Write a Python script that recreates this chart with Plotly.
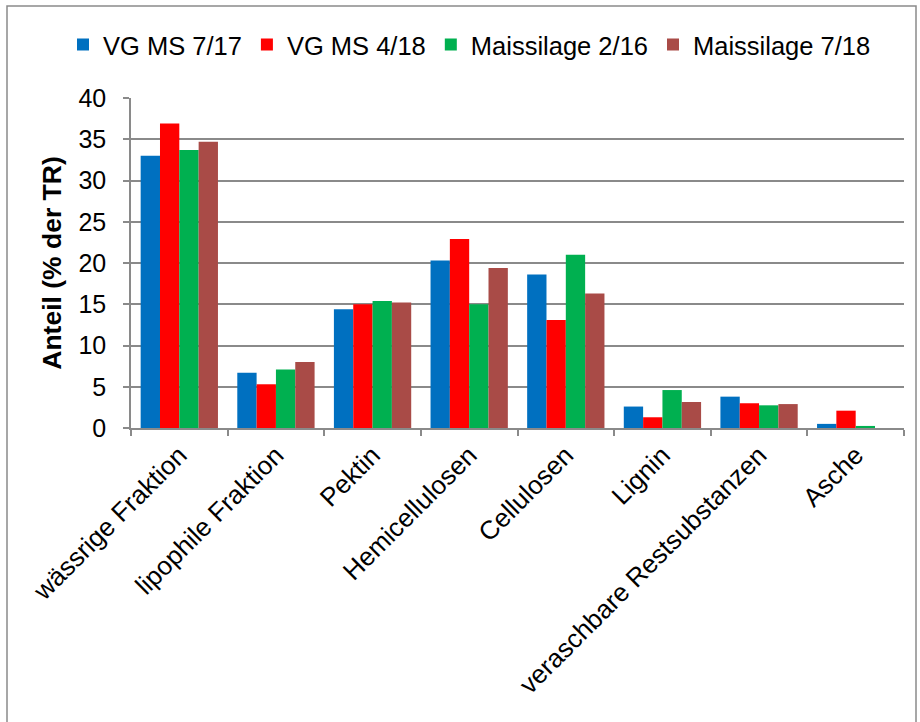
import plotly.graph_objects as go

categories = ["wässrige Fraktion", "lipophile Fraktion", "Pektin", "Hemicellulosen",
              "Cellulosen", "Lignin", "veraschbare Restsubstanzen", "Asche"]
series_names = ["VG MS 7/17", "VG MS 4/18", "Maissilage 2/16", "Maissilage 7/18"]
vg_ms_7_17 = [33.0, 6.7, 14.4, 20.3, 18.6, 2.6, 3.8, 0.5]
vg_ms_4_18 = [36.9, 5.3, 15.0, 22.9, 13.1, 1.3, 3.0, 2.1]
maissilage_2_16 = [33.7, 7.1, 15.4, 15.0, 21.0, 4.6, 2.75, 0.25]
maissilage_7_18 = [34.7, 8.0, 15.2, 19.4, 16.3, 3.15, 2.9, 0.0]
colors = ["#0070C0", "#FF0000", "#00B050", "#A94B47"]
y_ticks = [0, 5, 10, 15, 20, 25, 30, 35, 40]

FONT = "Arial, 'Liberation Sans', sans-serif"
GRID = "#8A8A8A"

fig = go.Figure()
for name, vals, col in zip(series_names,
                           [vg_ms_7_17, vg_ms_4_18, maissilage_2_16, maissilage_7_18],
                           colors):
    fig.add_trace(go.Bar(name=name, x=categories, y=vals, marker_color=col,
                         marker_line_width=0))

W, H = 920, 722
L, R, T, B = 131, 16, 98, 294
pw, ph = W - L - R, H - T - B

fig.update_layout(
    width=W, height=H,
    margin=dict(l=L, r=R, t=T, b=B, autoexpand=False),
    paper_bgcolor="white", plot_bgcolor="white",
    barmode="group", bargap=0.2, bargroupgap=0,
    font=dict(family=FONT, color="black"),
    legend=dict(orientation="h", x=(63 - L) / pw, xanchor="left",
                y=(H - B - 45) / ph, yanchor="middle",
                font=dict(size=25.5, family=FONT), itemwidth=30,
                traceorder="normal", bgcolor="rgba(0,0,0,0)"),
    xaxis=dict(type="category", tickangle=-45, tickfont=dict(size=26, family=FONT),
               showline=True, linecolor=GRID, linewidth=1.5,
               ticks="outside", tickson="boundaries", ticklen=6, tickcolor=GRID,
               tickwidth=1.5, showgrid=False),
    yaxis=dict(range=[0, 40], tickvals=y_ticks, tickfont=dict(size=25, family=FONT),
               showline=True, linecolor=GRID, linewidth=1.5,
               ticks="outside", ticklen=6, tickcolor=GRID, tickwidth=1.5,
               showgrid=True, gridcolor=GRID, gridwidth=1.5, zeroline=False,
               ticklabelstandoff=12,
               title=dict(text="<b>Anteil (% der TR)</b>",
                          font=dict(size=26.5, family=FONT), standoff=9)),
)

# outer chart border
fig.add_shape(type="rect", xref="paper", yref="paper",
              x0=(7 - L) / pw, x1=(916 - L) / pw,
              y0=(H - B - 740) / ph, y1=(H - B - 6) / ph,
              line=dict(color="#8A8A8A", width=1.5), fillcolor="rgba(0,0,0,0)",
              layer="below")

fig.write_html("out.html", config={"displayModeBar": False},
               post_script="document.body.style.margin='0';document.body.style.padding='0';")
